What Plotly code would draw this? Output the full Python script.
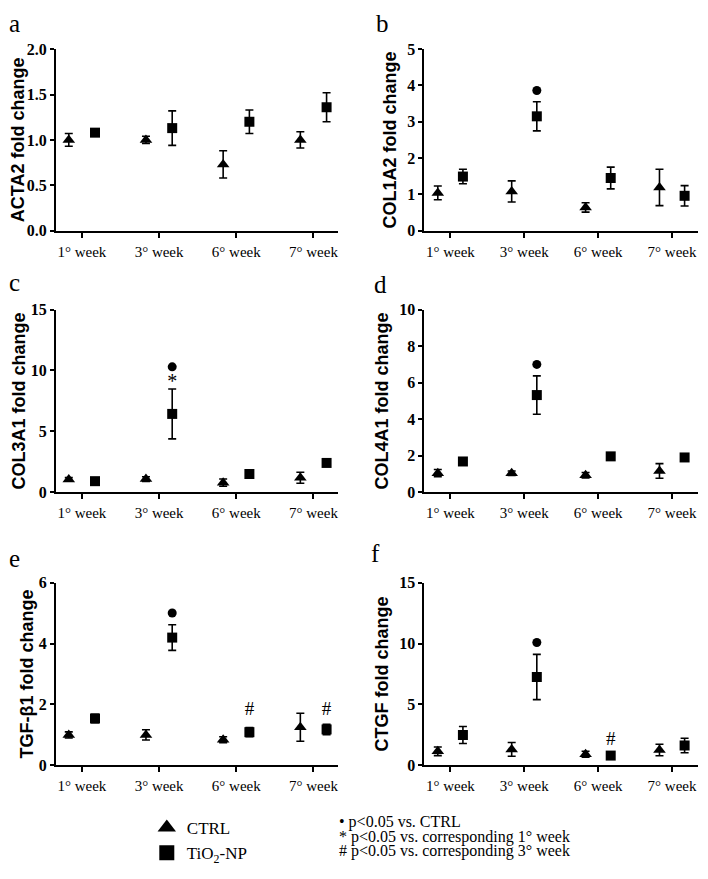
import plotly.graph_objects as go

weeks = ["1° week", "3° week", "6° week", "7° week"]

# ---- data (mean fold change and error) ----
acta2_ctrl = [1.00, 1.00, 0.73, 1.00]
acta2_ctrl_err = [0.07, 0.04, 0.15, 0.09]
acta2_tio2 = [1.08, 1.13, 1.20, 1.36]
acta2_tio2_err = [0.02, 0.19, 0.13, 0.16]

col1a2_ctrl = [1.04, 1.08, 0.64, 1.19]
col1a2_ctrl_err = [0.19, 0.29, 0.13, 0.50]
col1a2_tio2 = [1.49, 3.15, 1.45, 0.96]
col1a2_tio2_err = [0.20, 0.40, 0.30, 0.28]
col1a2_dot = [None, 3.86, None, None]

col3a1_ctrl = [1.04, 1.07, 0.78, 1.18]
col3a1_ctrl_err = [0.15, 0.20, 0.30, 0.45]
col3a1_tio2 = [0.90, 6.43, 1.49, 2.40]
col3a1_tio2_err = [0.10, 2.05, 0.15, 0.15]
col3a1_dot = [None, 10.3, None, None]
col3a1_star = [None, 9.0, None, None]

col4a1_ctrl = [1.04, 1.04, 0.93, 1.16]
col4a1_ctrl_err = [0.20, 0.12, 0.15, 0.40]
col4a1_tio2 = [1.68, 5.32, 1.96, 1.90]
col4a1_tio2_err = [0.10, 1.05, 0.20, 0.10]
col4a1_dot = [None, 7.0, None, None]

tgfb1_ctrl = [1.00, 1.00, 0.84, 1.25]
tgfb1_ctrl_err = [0.10, 0.17, 0.10, 0.46]
tgfb1_tio2 = [1.54, 4.20, 1.09, 1.18]
tgfb1_tio2_err = [0.14, 0.42, 0.15, 0.17]
tgfb1_dot = [None, 5.01, None, None]
tgfb1_hash = [None, None, 1.8, 1.8]

ctgf_ctrl = [1.15, 1.31, 0.91, 1.26]
ctgf_ctrl_err = [0.35, 0.57, 0.25, 0.47]
ctgf_tio2 = [2.49, 7.26, 0.80, 1.63]
ctgf_tio2_err = [0.70, 1.86, 0.10, 0.60]
ctgf_dot = [None, 10.1, None, None]
ctgf_hash = [None, None, 2.1, None]

panels = [
    dict(label="a", title="ACTA2 fold change", ctrl=acta2_ctrl, ctrl_err=acta2_ctrl_err,
         tio2=acta2_tio2, tio2_err=acta2_tio2_err, dot=None, star=None, hsh=None,
         yr=[0, 2], dtick=0.5, fmt="{:.1f}"),
    dict(label="b", title="COL1A2 fold change", ctrl=col1a2_ctrl, ctrl_err=col1a2_ctrl_err,
         tio2=col1a2_tio2, tio2_err=col1a2_tio2_err, dot=col1a2_dot, star=None, hsh=None,
         yr=[0, 5], dtick=1, fmt="{:.0f}"),
    dict(label="c", title="COL3A1 fold change", ctrl=col3a1_ctrl, ctrl_err=col3a1_ctrl_err,
         tio2=col3a1_tio2, tio2_err=col3a1_tio2_err, dot=col3a1_dot, star=col3a1_star, hsh=None,
         yr=[0, 15], dtick=5, fmt="{:.0f}"),
    dict(label="d", title="COL4A1 fold change", ctrl=col4a1_ctrl, ctrl_err=col4a1_ctrl_err,
         tio2=col4a1_tio2, tio2_err=col4a1_tio2_err, dot=col4a1_dot, star=None, hsh=None,
         yr=[0, 10], dtick=2, fmt="{:.0f}"),
    dict(label="e", title="TGF-β1 fold change", ctrl=tgfb1_ctrl, ctrl_err=tgfb1_ctrl_err,
         tio2=tgfb1_tio2, tio2_err=tgfb1_tio2_err, dot=tgfb1_dot, star=None, hsh=tgfb1_hash,
         yr=[0, 6], dtick=2, fmt="{:.0f}"),
    dict(label="f", title="CTGF fold change", ctrl=ctgf_ctrl, ctrl_err=ctgf_ctrl_err,
         tio2=ctgf_tio2, tio2_err=ctgf_tio2_err, dot=ctgf_dot, star=None, hsh=ctgf_hash,
         yr=[0, 15], dtick=5, fmt="{:.0f}"),
]

# page is 708x879; the html body keeps its default 8px margin, so the figure is 692x863
PAD = 8
W, H = 708 - 2 * PAD, 879 - 2 * PAD
SERIF = "Times New Roman, Liberation Serif, serif"
SANS = "Arial, Liberation Sans, sans-serif"


def fx(px):
    return (px - PAD) / W


def fy(py):
    return 1 - (py - PAD) / H


# panel layout in page pixels: (left, right, first tick, tick spacing)
cols = [(56, 338, 82, 77.3), (425, 699, 451, 74.0)]
rows = [(42, 228), (309, 496), (589, 776)]
# panel letters: (left px, middle px)
letters = [(8, 15.5), (376, 15.5), (8, 281), (374, 283), (8, 564), (371, 559)]
title_standoff = [0, 6]

OFF = 0.17
pos = list(range(len(weeks)))
fig = go.Figure()
layout = dict(width=W, height=H, margin=dict(l=0, r=0, t=0, b=0),
              paper_bgcolor="white", plot_bgcolor="white", annotations=[])

for i, p in enumerate(panels):
    n = i + 1
    r, c = divmod(i, 2)
    xs = "x" if n == 1 else f"x{n}"
    ys = "y" if n == 1 else f"y{n}"
    x0, x1, t0, sp = cols[c]
    yt, yb = rows[r]
    xc = [k - OFF for k in pos]
    xt = [k + OFF for k in pos]
    fig.add_trace(go.Scatter(
        x=xc, y=p["ctrl"], mode="markers", xaxis=xs, yaxis=ys, showlegend=False,
        marker=dict(symbol="triangle-up", size=11, color="black"),
        error_y=dict(type="data", array=p["ctrl_err"], color="black", thickness=1.6, width=4),
        cliponaxis=False))
    fig.add_trace(go.Scatter(
        x=xt, y=p["tio2"], mode="markers", xaxis=xs, yaxis=ys, showlegend=False,
        marker=dict(symbol="square", size=10, color="black"),
        error_y=dict(type="data", array=p["tio2_err"], color="black", thickness=1.6, width=4),
        cliponaxis=False))
    if p["dot"]:
        fig.add_trace(go.Scatter(
            x=xt, y=p["dot"], mode="markers", xaxis=xs, yaxis=ys, showlegend=False,
            marker=dict(symbol="circle", size=9, color="black"), cliponaxis=False))
    if p["star"]:
        fig.add_trace(go.Scatter(
            x=xt, y=p["star"], mode="text", text=["*" if v is not None else "" for v in p["star"]],
            xaxis=xs, yaxis=ys, showlegend=False, textfont=dict(family=SERIF, size=20, color="black"),
            cliponaxis=False))
    if p["hsh"]:
        fig.add_trace(go.Scatter(
            x=xt, y=p["hsh"], mode="text", text=["#" if v is not None else "" for v in p["hsh"]],
            xaxis=xs, yaxis=ys, showlegend=False, textfont=dict(family=SERIF, size=19, color="black"),
            cliponaxis=False))

    nt = int(round(p["yr"][1] / p["dtick"]))
    yticks = [k * p["dtick"] for k in range(nt + 1)]
    layout["xaxis" if n == 1 else f"xaxis{n}"] = dict(
        domain=[fx(x0), fx(x1)], range=[(x0 - t0) / sp, (x1 - t0) / sp], anchor=ys,
        tickmode="array", tickvals=pos, ticktext=weeks,
        ticks="outside", ticklen=5, tickwidth=2, tickcolor="black",
        showline=True, linewidth=2, linecolor="black", showgrid=False, zeroline=False,
        tickfont=dict(family=SERIF, size=15, color="black"), ticklabelstandoff=1)
    layout["yaxis" if n == 1 else f"yaxis{n}"] = dict(
        domain=[fy(yb), fy(yt)], range=p["yr"], anchor=xs,
        tickmode="array", tickvals=yticks,
        ticktext=["<b>" + p["fmt"].format(v) + "</b>" for v in yticks],
        ticks="outside", ticklen=4, tickwidth=2, tickcolor="black",
        showline=True, linewidth=2, linecolor="black", showgrid=False, zeroline=False,
        tickfont=dict(family=SERIF, size=16, color="black"),
        title=dict(text="<b>" + p["title"] + "</b>", standoff=title_standoff[c],
                   font=dict(family=SANS, size=18, color="black")))
    lx, ly = letters[i]
    layout["annotations"].append(dict(
        text=p["label"], x=fx(lx), y=fy(ly), xref="paper", yref="paper",
        xanchor="left", yanchor="middle", showarrow=False, borderpad=0,
        font=dict(family=SERIF, size=25, color="black")))

# legend entries
fig.add_trace(go.Scatter(x=[None], y=[None], mode="markers", name="CTRL",
                         marker=dict(symbol="triangle-up", size=16, color="black")))
fig.add_trace(go.Scatter(x=[None], y=[None], mode="markers", name="TiO<sub>2</sub>-NP",
                         marker=dict(symbol="square", size=15, color="black")))
layout["legend"] = dict(x=fx(147), y=fy(822), xanchor="left", yanchor="top",
                        font=dict(family=SERIF, size=17, color="black"),
                        itemsizing="trace", bgcolor="rgba(0,0,0,0)", tracegroupgap=0)

notes = ["• p<0.05 vs. CTRL",
         "* p<0.05 vs. corresponding 1° week",
         "# p<0.05 vs. corresponding 3° week"]
for t, yy in zip(notes, [834.5, 849, 863.5]):
    layout["annotations"].append(dict(
        text=t, x=fx(337), y=fy(yy), xref="paper", yref="paper",
        xanchor="left", yanchor="middle", showarrow=False,
        font=dict(family=SERIF, size=16, color="black")))

fig.update_layout(**layout)
fig.write_html("out.html", config={"displayModeBar": False})
